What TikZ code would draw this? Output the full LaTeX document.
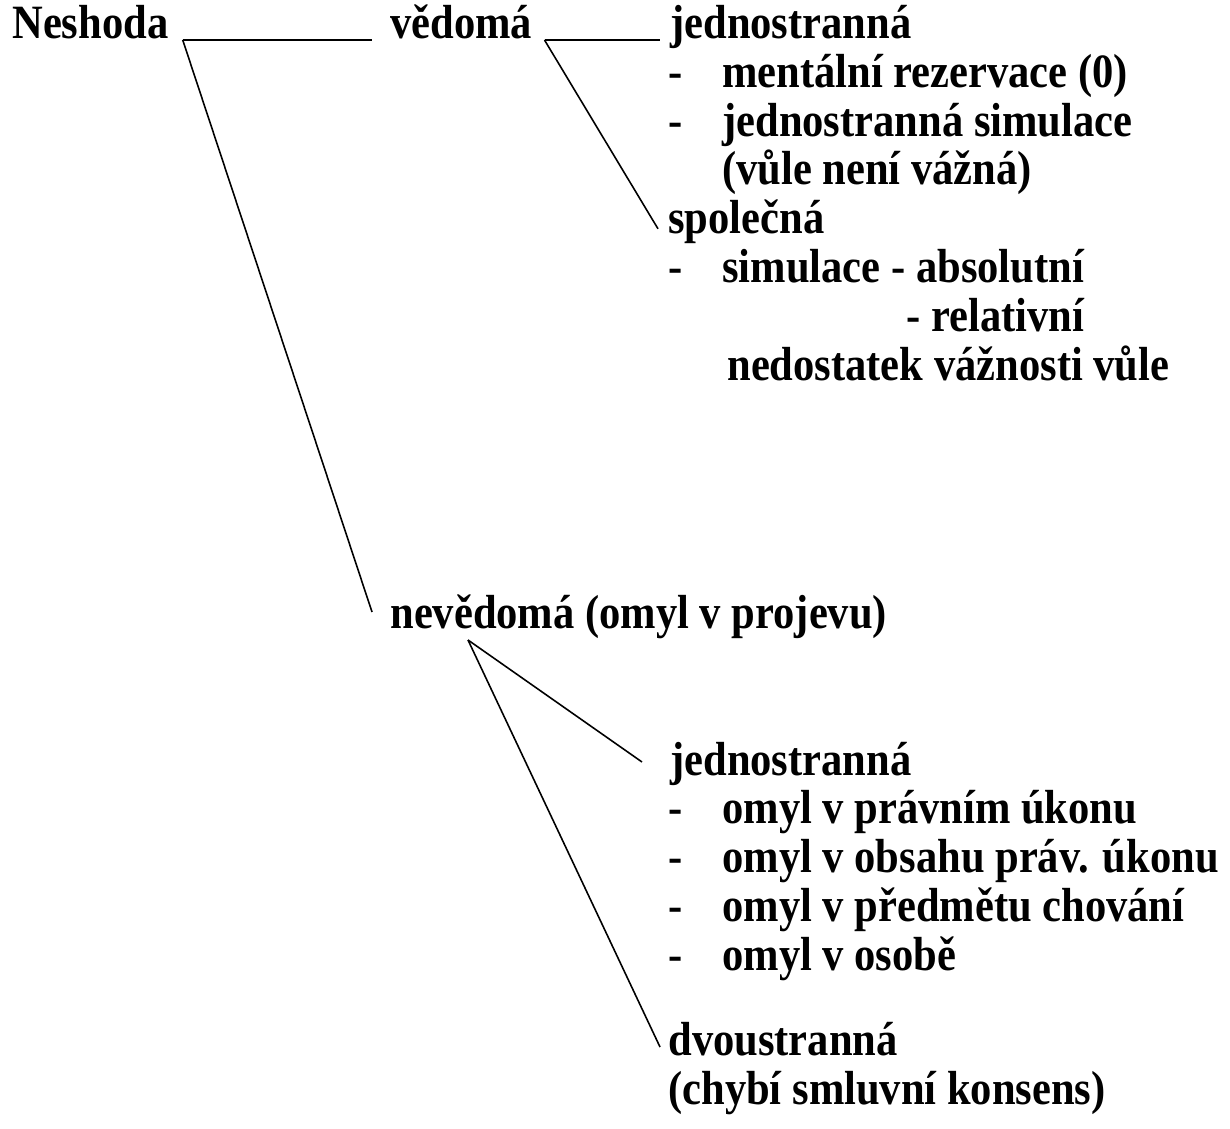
\documentclass[tikz,border=0pt]{standalone}
\usepackage{fontspec}
\setmainfont[FakeStretch=0.89]{Liberation Serif}
\usepackage{tikz}
\usetikzlibrary{calc}

\newcommand{\dashitem}[1]{\makebox[1.08cm][l]{-}#1}

\begin{document}
\fontsize{27.2}{32}\selectfont
\begin{tikzpicture}[
        term/.style={anchor=base west, inner sep=0pt, font=\bfseries},
        branch/.style={line width=0.9pt}
    ]
        \useasboundingbox (0,0) rectangle (24.6,-22.58);

        \node[term] (neshoda) at (0.24, -0.78) {Neshoda};
        \node[term] (vedoma)  at (7.8, -0.78) {vědomá};
        \node[term] (nevedoma) at (7.8, -12.56) {nevědomá (omyl v projevu)};

        % vedoma
        \node[term] (jedn1)   at (13.4, -0.78) {jednostranná};
        \node[term] (mentalni) at (13.36, -1.754) {\dashitem{mentální rezervace (0)}};
        \node[term] (jsimul)  at (13.36, -2.728) {\dashitem{jednostranná simulace}};
        \node[term] (vazna)   at (14.44, -3.70) {(vůle není vážná)};
        \node[term] (spolecna) at (13.36, -4.676) {společná};
        \node[term] (simulace) at (13.36, -5.65) {\dashitem{simulace - absolutní}};
        \node[term, anchor=base east] (relativni) at ([yshift=-0.974cm]simulace.base east) {- relativní};
        \node[term] (nedostatek) at (14.54, -7.60) {nedostatek vážnosti vůle};

        % nevedoma
        \node[term] (jedn2)   at (13.4, -15.5) {jednostranná};
        \node[term] (omyl1)   at (13.36, -16.47) {\dashitem{omyl v právním úkonu}};
        \node[term] (omyl2)   at (13.36, -17.44) {\dashitem{omyl v obsahu práv. úkonu}};
        \node[term] (omyl3)   at (13.36, -18.42) {\dashitem{omyl v předmětu chování}};
        \node[term] (omyl4)   at (13.36, -19.40) {\dashitem{omyl v osobě}};
        \node[term] (dvoustr) at (13.36, -21.1) {dvoustranná};
        \node[term] (konsens) at (13.36, -22.08) {(chybí smluvní konsens)};

        \coordinate (nsplit) at ([xshift=0.28cm, yshift=-0.02cm]neshoda.base east);
        \coordinate (vsplit) at ([xshift=0.24cm, yshift=-0.02cm]vedoma.base east);
        \coordinate (nvsplit) at ([xshift=1.56cm, yshift=-0.24cm]nevedoma.base west);

        \draw[branch] (nsplit) -- ([xshift=-0.36cm, yshift=-0.02cm]vedoma.base west);
        \draw[branch] (nsplit) -- ([xshift=-0.36cm, yshift=0.32cm]nevedoma.base west);
        \draw[branch] (vsplit) -- ([xshift=-0.2cm, yshift=-0.02cm]jedn1.base west);
        \draw[branch] (vsplit) -- ([xshift=-0.2cm, yshift=0.1cm]spolecna.base west);
        \draw[branch] (nvsplit) -- ([xshift=-0.56cm, yshift=0.26cm]jedn2.base west);
        \draw[branch] (nvsplit) -- ([xshift=-0.16cm, yshift=0.16cm]dvoustr.base west);
    \end{tikzpicture}
\end{document}
